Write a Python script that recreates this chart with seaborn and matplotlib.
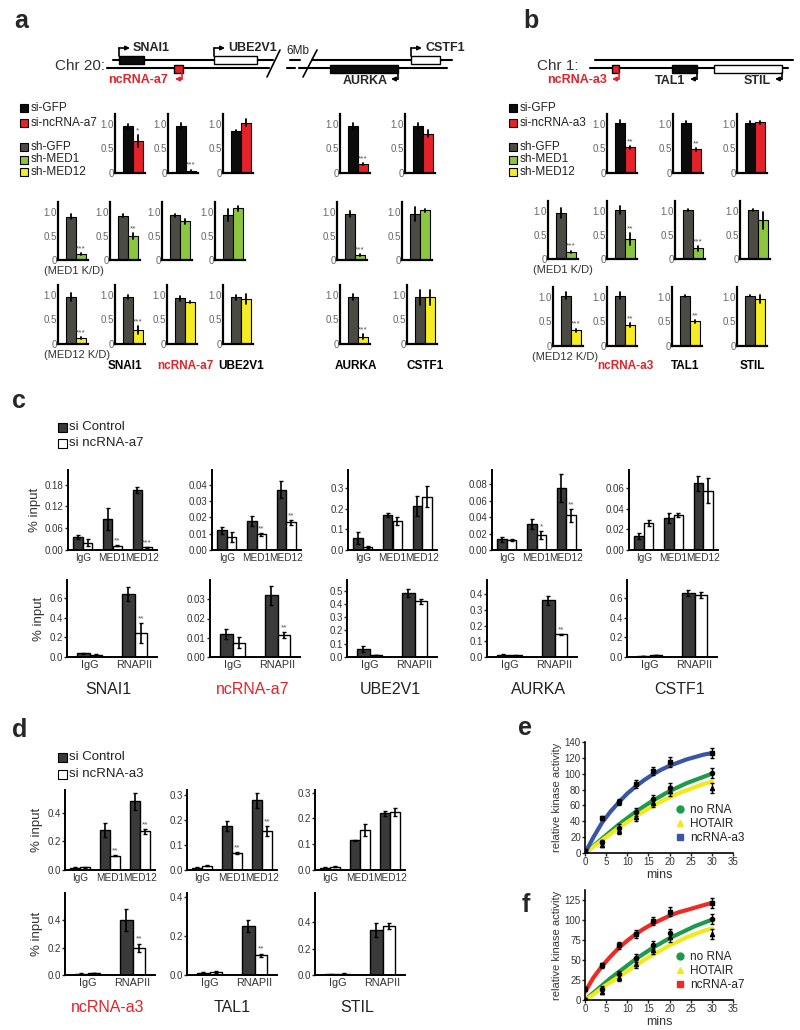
import numpy as np
import pandas as pd
import matplotlib
matplotlib.use("Agg")
import matplotlib.pyplot as plt
import seaborn as sns
from matplotlib.patches import Rectangle
from matplotlib.lines import Line2D

sns.set_theme(style="ticks")
plt.rcParams["font.family"] = ["Liberation Sans", "DejaVu Sans"]

# ---------------- data ----------------
# panel a (knockdown qPCR), values relative to control
a_genes = ["SNAI1", "ncRNA-a7", "UBE2V1", "AURKA", "CSTF1"]
a_si_ctrl = [0.95, 0.95, 0.85, 0.95, 0.95]
a_si_ctrl_err = [0.05, 0.07, 0.02, 0.07, 0.06]
a_si_kd = [0.65, 0.05, 1.02, 0.18, 0.80]
a_si_kd_err = [0.12, 0.02, 0.07, 0.02, 0.07]
a_si_stars = ["*", "***", "", "***", ""]

a_med1_ctrl = [0.90, 0.92, 0.93, 0.93, 0.95, 0.95]
a_med1_ctrl_err = [0.06, 0.04, 0.03, 0.12, 0.06, 0.14]
a_med1_kd = [0.12, 0.50, 0.80, 1.07, 0.10, 1.03]
a_med1_kd_err = [0.02, 0.06, 0.05, 0.05, 0.02, 0.03]
a_med1_stars = ["***", "**", "", "", "***", ""]

a_med12_ctrl = [0.95, 0.95, 0.93, 0.95, 0.95, 0.95]
a_med12_ctrl_err = [0.08, 0.04, 0.05, 0.05, 0.06, 0.15]
a_med12_kd = [0.12, 0.28, 0.85, 0.92, 0.15, 0.95]
a_med12_kd_err = [0.02, 0.08, 0.02, 0.10, 0.05, 0.15]
a_med12_stars = ["***", "***", "", "", "***", ""]

# panel b
b_genes = ["ncRNA-a3", "TAL1", "STIL"]
b_si_ctrl = [1.02, 1.02, 1.02]
b_si_ctrl_err = [0.05, 0.04, 0.04]
b_si_kd = [0.52, 0.48, 1.03]
b_si_kd_err = [0.03, 0.03, 0.03]
b_si_stars = ["**", "**", ""]

b_med1_ctrl = [0.95, 1.02, 1.02, 1.02]
b_med1_ctrl_err = [0.10, 0.08, 0.02, 0.02]
b_med1_kd = [0.15, 0.42, 0.22, 0.80]
b_med1_kd_err = [0.02, 0.12, 0.05, 0.18]
b_med1_stars = ["***", "**", "***", ""]

b_med12_ctrl = [1.02, 1.02, 1.02, 1.02]
b_med12_ctrl_err = [0.07, 0.07, 0.02, 0.01]
b_med12_kd = [0.32, 0.42, 0.50, 0.95]
b_med12_kd_err = [0.03, 0.04, 0.03, 0.08]
b_med12_stars = ["***", "**", "**", ""]

# panel c (ChIP, % input)
c_genes = ["SNAI1", "ncRNA-a7", "UBE2V1", "AURKA", "CSTF1"]
med_targets = ["IgG", "MED1", "MED12"]
pol_targets = ["IgG", "RNAPII"]

c_med_ctrl = [[0.035, 0.085, 0.165], [0.012, 0.018, 0.037], [0.06, 0.17, 0.215],
              [0.013, 0.032, 0.075], [0.014, 0.031, 0.065]]
c_med_ctrl_err = [[0.005, 0.03, 0.008], [0.002, 0.003, 0.005], [0.03, 0.01, 0.05],
                  [0.003, 0.006, 0.017], [0.003, 0.005, 0.007]]
c_med_kd = [[0.02, 0.012, 0.007], [0.008, 0.0095, 0.017], [0.015, 0.14, 0.26],
            [0.012, 0.018, 0.042], [0.026, 0.034, 0.058]]
c_med_kd_err = [[0.01, 0.002, 0.002], [0.003, 0.001, 0.0015], [0.003, 0.02, 0.05],
                [0.001, 0.005, 0.008], [0.003, 0.002, 0.012]]
c_med_stars = [["", "**", "***"], ["", "**", "**"], ["", "", ""], ["", "*", "**"], ["", "", ""]]
c_med_ticks = [[0, 0.06, 0.12, 0.18], [0, 0.01, 0.02, 0.03, 0.04], [0, 0.1, 0.2, 0.3],
               [0, 0.02, 0.04, 0.06, 0.08], [0, 0.02, 0.04, 0.06]]
c_med_dec = [2, 2, 1, 2, 2]
c_med_ymax = [0.22, 0.049, 0.39, 0.097, 0.078]

c_pol_ctrl = [[0.04, 0.64], [0.012, 0.032], [0.06, 0.48], [0.015, 0.36], [0.01, 0.65]]
c_pol_ctrl_err = [[0.005, 0.07], [0.0025, 0.005], [0.025, 0.03], [0.003, 0.03], [0.002, 0.03]]
c_pol_kd = [[0.025, 0.24], [0.0075, 0.0115], [0.015, 0.42], [0.01, 0.145], [0.02, 0.63]]
c_pol_kd_err = [[0.01, 0.1], [0.003, 0.0015], [0.003, 0.02], [0.002, 0.003], [0.003, 0.03]]
c_pol_stars = [["", "**"], ["", "**"], ["", ""], ["", "**"], ["", ""]]
c_pol_ticks = [[0, 0.2, 0.4, 0.6], [0, 0.01, 0.02, 0.03], [0, 0.1, 0.2, 0.3, 0.4, 0.5],
               [0, 0.1, 0.2, 0.3, 0.4], [0, 0.2, 0.4, 0.6]]
c_pol_dec = [1, 2, 1, 1, 1]
c_pol_ymax = [0.78, 0.04, 0.58, 0.49, 0.78]

# panel d
d_genes = ["ncRNA-a3", "TAL1", "STIL"]
d_med_ctrl = [[0.015, 0.28, 0.48], [0.01, 0.175, 0.28], [0.008, 0.115, 0.22]]
d_med_ctrl_err = [[0.003, 0.05, 0.06], [0.003, 0.02, 0.03], [0.002, 0.003, 0.01]]
d_med_kd = [[0.018, 0.10, 0.27], [0.018, 0.068, 0.155], [0.012, 0.155, 0.225]]
d_med_kd_err = [[0.003, 0.005, 0.015], [0.003, 0.004, 0.02], [0.002, 0.025, 0.015]]
d_med_stars = [["", "**", "**"], ["", "**", "**"], ["", "", ""]]
d_med_ticks = [[0, 0.2, 0.4], [0, 0.1, 0.2, 0.3], [0, 0.1, 0.2, 0.3]]
d_med_ymax = [0.56, 0.32, 0.31]

d_pol_ctrl = [[0.01, 0.40], [0.01, 0.25], [0.005, 0.34]]
d_pol_ctrl_err = [[0.003, 0.08], [0.003, 0.03], [0.002, 0.05]]
d_pol_kd = [[0.015, 0.20], [0.015, 0.10], [0.01, 0.37]]
d_pol_kd_err = [[0.003, 0.03], [0.003, 0.01], [0.002, 0.02]]
d_pol_stars = [["", "**"], ["", "**"], ["", ""]]
d_pol_ticks = [[0, 0.2, 0.4], [0, 0.2, 0.4], [0, 0.2, 0.4]]
d_pol_ymax = [0.6, 0.42, 0.62]

fit_t = [0, 2, 4, 6, 8, 10, 12, 14, 16, 18, 20, 22, 24, 26, 28, 30]
e_norna_fit = [0, 9, 18, 27, 36, 44, 52, 59, 66, 72, 78, 83, 88, 92, 96, 100]
e_hotair_fit = [0, 8, 16, 24, 32, 39, 46, 53, 59, 65, 70, 75, 79, 83, 87, 90]
e_a3_fit = [0, 20, 38, 52, 64, 75, 84, 92, 99, 105, 110, 114, 118, 121, 124, 126]
f_norna_fit = [0, 9, 18, 27, 35, 43, 51, 58, 65, 71, 77, 82, 87, 92, 96, 100]
f_hotair_fit = [0, 7, 15, 22, 29, 36, 43, 50, 56, 62, 68, 73, 78, 82, 86, 89]
f_a7_fit = [10, 28, 42, 54, 65, 74, 82, 89, 95, 100, 105, 109, 112, 115, 118, 121]

pt_t = [0, 4, 8, 12, 16, 20, 30]
e_norna_pts = [0, 14, 32, 52, 68, 82, 101]
e_hotair_pts = [0, 10, 28, 45, 63, 78, 82]
e_a3_pts = [3, 44, 64, 87, 103, 115, 126]
f_norna_pts = [0, 14, 32, 52, 68, 83, 101]
f_hotair_pts = [0, 10, 28, 45, 62, 78, 82]
f_a7_pts = [14, 43, 68, 82, 98, 110, 121]
pts_err = [2, 3, 4, 5, 5, 6, 6]

# ---------------- style ----------------
BLACK = "#0c0c0c"
RED = "#e5222a"
DKGRAY = "#4b4b43"
GREEN = "#8cc63f"
YELLOW = "#f6ec22"
CHIP_DARK = "#3a3a3a"
L_GREEN = "#1e9b4a"
L_YELLOW = "#f2e81b"
L_BLUE = "#3a55a5"
L_RED = "#ee2a24"

W, H = 800, 1030
fig = plt.figure(figsize=(8, 10.3), dpi=100)


def box(x, y, w, h):
    return fig.add_axes([x / W, 1 - (y + h) / H, w / W, h / H])


ov = fig.add_axes([0, 0, 1, 1])
ov.set_xlim(0, W)
ov.set_ylim(H, 0)
ov.axis("off")


def style_axes(ax, lw=1.6):
    sns.despine(ax=ax)
    for s in ("left", "bottom"):
        ax.spines[s].set_linewidth(lw)
        ax.spines[s].set_color("black")
    ax.set_xlabel("")
    ax.set_ylabel("")


def mini(x, y, vals, errs, cols, star, h=59):
    ax = box(x, y, 30, h)
    d = pd.DataFrame({"c": ["ctrl", "kd"], "v": vals})
    sns.barplot(data=d, x="c", y="v", hue="c", palette=cols, width=1.0, saturation=1,
                edgecolor="black", linewidth=0.8, legend=False, ax=ax)
    for p, e in zip(ax.patches, errs):
        cx = p.get_x() + p.get_width() / 2
        ax.plot([cx, cx], [p.get_height() - e, p.get_height() + e], color="black", lw=1.3)
    if star:
        p = ax.patches[1]
        ax.text(p.get_x() + p.get_width() / 2, p.get_height() + errs[1] + 0.02, star,
                ha="center", va="bottom", fontsize=6, color="#555")
    ax.set_xlim(-1.3, 1.7)
    ax.set_ylim(0, 1.2)
    ax.set_yticks([0, 0.5, 1.0])
    ax.set_yticklabels(["0", "0.5", "1.0"])
    ax.set_xticks([])
    ax.tick_params(axis="y", length=0, labelsize=7, labelcolor="#666", pad=1)
    style_axes(ax)
    return ax


def chip(x, y, w, h, cats, ctrl, ce, kd, ke, stars, ticks, ymax, width, dec=1, ylabel=False):
    ax = box(x, y, w, h)
    n = len(cats)
    d = pd.DataFrame({"t": cats * 2, "g": ["ctrl"] * n + ["kd"] * n, "v": ctrl + kd})
    sns.barplot(data=d, x="t", y="v", hue="g", palette=[CHIP_DARK, "white"], width=width,
                saturation=1, edgecolor="black", linewidth=1.0, legend=False, ax=ax)
    errs = ce + ke
    for p, e in zip(ax.patches, errs):
        cx = p.get_x() + p.get_width() / 2
        ax.errorbar(cx, p.get_height(), yerr=e, color="black", lw=1.2, capsize=1.5, capthick=1)
    for p, e, s in zip(ax.patches[n:], ke, stars):
        if s:
            ax.text(p.get_x() + p.get_width() / 2, p.get_height() + e + ymax * 0.01, s,
                    ha="center", va="bottom", fontsize=6, color="#555")
    ax.set_ylim(0, ymax)
    ax.set_xlim(-0.5, n - 0.5)
    ax.set_yticks(ticks)
    ax.set_yticklabels([f"{t:.{dec}f}" for t in ticks])
    ax.tick_params(axis="y", length=2, width=1, labelsize=7, labelcolor="#333", pad=1)
    ax.tick_params(axis="x", length=0, labelsize=7.2 if n == 3 else 7.8, labelcolor="#333", pad=2)
    style_axes(ax, lw=1.4)
    if ylabel:
        ax.set_ylabel("% input", fontsize=9.5, color="#333", labelpad=3)
    return ax


# ---------------- panel letters ----------------
for lab, (lx, ly) in {"a": (14, 28), "b": (523, 28), "c": (12, 408), "d": (12, 737),
                      "e": (518, 735), "f": (522, 912)}.items():
    ov.text(lx, ly, lab, fontsize=18, fontweight="bold", va="baseline", ha="left")

# ---------------- gene diagrams ----------------
def gene_box(x0, x1, y0, fc):
    ov.add_patch(Rectangle((x0, y0), x1 - x0, 8, fc=fc, ec="black", lw=1, zorder=3))


def tss(x, y0, y1, x1, color="black"):
    ov.plot([x, x], [y0, y1], color=color, lw=1.2, zorder=3)
    ov.annotate("", xy=(x1, y1), xytext=(x, y1),
                arrowprops=dict(arrowstyle="-|>", lw=1.2, color=color, mutation_scale=6,
                                shrinkA=0, shrinkB=0), zorder=3)


ov.text(55, 66, "Chr 20:", fontsize=11, va="center", color="#333")
# top strand
ov.plot([113, 273], [60, 60], color="black", lw=1.5)
ov.plot([290, 300], [60, 60], color="black", lw=1.5)
ov.plot([312, 452], [60, 60], color="black", lw=1.5)
# bottom strand
ov.plot([107, 269], [68, 68], color="black", lw=1.5)
ov.plot([287, 295], [68, 68], color="black", lw=1.5)
ov.plot([299, 447], [68, 68], color="black", lw=1.5)
ov.plot([267, 280], [77, 50], color="black", lw=1.2)
ov.plot([303, 317], [77, 50], color="black", lw=1.2)
ov.text(298, 51, "6Mb", fontsize=8.5, ha="center", va="center", color="#222")
gene_box(119, 144, 56, BLACK)
gene_box(214, 257, 56, "white")
gene_box(411, 440, 56, "white")
gene_box(174, 183, 65, RED)
gene_box(330, 398, 65, BLACK)
tss(119, 56, 48, 130)
tss(214, 56, 48, 225)
tss(411, 56, 48, 422)
tss(182, 73, 79, 175, RED)
tss(398, 73, 79, 391)
ov.text(133, 48, "SNAI1", fontsize=9, fontweight="bold", va="center")
ov.text(228, 48, "UBE2V1", fontsize=9, fontweight="bold", va="center")
ov.text(425, 48, "CSTF1", fontsize=9, fontweight="bold", va="center")
ov.text(168, 80, "ncRNA-a7", fontsize=9, fontweight="bold", va="center", ha="right", color=RED)
ov.text(388, 81, "AURKA", fontsize=9, fontweight="bold", va="center", ha="right")

ov.text(537, 66, "Chr 1:", fontsize=11, va="center", color="#333")
ov.plot([595, 793], [60, 60], color="black", lw=1.5)
ov.plot([590, 788], [68, 68], color="black", lw=1.5)
gene_box(612, 619, 65, RED)
gene_box(672, 697, 65, BLACK)
gene_box(714, 782, 65, "white")
tss(619, 73, 79, 612, RED)
tss(697, 73, 79, 690)
tss(782, 73, 79, 775)
ov.text(607, 80, "ncRNA-a3", fontsize=9, fontweight="bold", va="center", ha="right", color=RED)
ov.text(685, 81, "TAL1", fontsize=9, fontweight="bold", va="center", ha="right")
ov.text(771, 81, "STIL", fontsize=9, fontweight="bold", va="center", ha="right")

# ---------------- legends a / b ----------------
def sq_legend(x, ys, labels, cols, size=8, fs=8.5, gap=3):
    for yy, lab, c in zip(ys, labels, cols):
        ov.add_patch(Rectangle((x, yy - size / 2), size, size, fc=c, ec="black", lw=0.8))
        ov.text(x + size + gap, yy, lab, fontsize=fs, va="center", color="#222")


sq_legend(20, [108, 123], ["si-GFP", "si-ncRNA-a7"], [BLACK, RED])
sq_legend(20, [147, 159.5, 172], ["sh-GFP", "sh-MED1", "sh-MED12"], [DKGRAY, GREEN, YELLOW])
sq_legend(509, [108, 123], ["si-GFP", "si-ncRNA-a3"], [BLACK, RED])
sq_legend(509, [147, 159.5, 172], ["sh-GFP", "sh-MED1", "sh-MED12"], [DKGRAY, GREEN, YELLOW])

# ---------------- panel a bars ----------------
for i, x in enumerate([115, 168, 223, 340, 405]):
    mini(x, 114, [a_si_ctrl[i], a_si_kd[i]], [a_si_ctrl_err[i], a_si_kd_err[i]],
         [BLACK, RED], a_si_stars[i])
for i, x in enumerate([58, 110, 162, 215, 337, 402]):
    mini(x, 202, [a_med1_ctrl[i], a_med1_kd[i]], [a_med1_ctrl_err[i], a_med1_kd_err[i]],
         [DKGRAY, GREEN], a_med1_stars[i], h=58)
for i, x in enumerate([58, 115, 167, 223, 340, 407]):
    mini(x, 285, [a_med12_ctrl[i], a_med12_kd[i]], [a_med12_ctrl_err[i], a_med12_kd_err[i]],
         [DKGRAY, YELLOW], a_med12_stars[i])

# ---------------- panel b bars ----------------
for i, x in enumerate([607, 673, 737]):
    mini(x, 114, [b_si_ctrl[i], b_si_kd[i]], [b_si_ctrl_err[i], b_si_kd_err[i]],
         [BLACK, RED], b_si_stars[i])
for i, x in enumerate([548, 607, 675, 740]):
    mini(x, 201, [b_med1_ctrl[i], b_med1_kd[i]], [b_med1_ctrl_err[i], b_med1_kd_err[i]],
         [DKGRAY, GREEN], b_med1_stars[i], h=58)
for i, x in enumerate([553, 607, 672, 737]):
    mini(x, 287, [b_med12_ctrl[i], b_med12_kd[i]], [b_med12_ctrl_err[i], b_med12_kd_err[i]],
         [DKGRAY, YELLOW], b_med12_stars[i])

ov.text(44, 271, "(MED1 K/D)", fontsize=8, va="center", color="#333")
ov.text(44, 355, "(MED12 K/D)", fontsize=8, va="center", color="#333")
ov.text(533, 270, "(MED1 K/D)", fontsize=8, va="center", color="#333")
ov.text(532, 357, "(MED12 K/D)", fontsize=8, va="center", color="#333")
for g, cx in zip(a_genes, [125, 185, 241, 356, 425]):
    ov.text(cx, 366, g, fontsize=8.5, fontweight="bold", ha="center", va="center",
            color=RED if g.startswith("ncRNA") else "black")
for g, cx in zip(b_genes, [625, 685, 752]):
    ov.text(cx, 366, g, fontsize=8.5, fontweight="bold", ha="center", va="center",
            color=RED if g.startswith("ncRNA") else "black")

# ---------------- panel c ----------------
sq_legend(58, [427, 443], ["si Control", "si ncRNA-a7"], [CHIP_DARK, "white"], size=9, fs=9.5, gap=2)
c_x = [68, 212, 348, 492, 629]
for i, x in enumerate(c_x):
    chip(x, 470, 89, 80, med_targets, c_med_ctrl[i], c_med_ctrl_err[i], c_med_kd[i],
         c_med_kd_err[i], c_med_stars[i], c_med_ticks[i], c_med_ymax[i], 0.65,
         dec=c_med_dec[i], ylabel=(i == 0))
c_x2 = [67, 210, 347, 487, 627]
for i, x in enumerate(c_x2):
    chip(x, 580, 90, 77, pol_targets, c_pol_ctrl[i], c_pol_ctrl_err[i], c_pol_kd[i],
         c_pol_kd_err[i], c_pol_stars[i], c_pol_ticks[i], c_pol_ymax[i], 0.57,
         dec=c_pol_dec[i], ylabel=(i == 0))
for g, cx in zip(c_genes, [108, 253, 390, 538, 680]):
    ov.text(cx, 690, g, fontsize=11.5, ha="center", va="center",
            color=RED if g.startswith("ncRNA") else "#222")

# ---------------- panel d ----------------
sq_legend(58, [757, 774], ["si Control", "si ncRNA-a3"], [CHIP_DARK, "white"], size=9, fs=9.5, gap=2)
d_x = [65, 187, 315]
for i, x in enumerate(d_x):
    chip(x, 790, 90, 80, med_targets, d_med_ctrl[i], d_med_ctrl_err[i], d_med_kd[i],
         d_med_kd_err[i], d_med_stars[i], d_med_ticks[i], d_med_ymax[i], 0.65, ylabel=(i == 0))
for i, x in enumerate(d_x):
    chip(x, 893, 90, 82, pol_targets, d_pol_ctrl[i], d_pol_ctrl_err[i], d_pol_kd[i],
         d_pol_kd_err[i], d_pol_stars[i], d_pol_ticks[i], d_pol_ymax[i], 0.57, ylabel=(i == 0))
for g, cx in zip(d_genes, [108, 232, 357]):
    ov.text(cx, 1008, g, fontsize=11.5, ha="center", va="center",
            color=RED if g.startswith("ncRNA") else "#222")

# ---------------- panels e / f ----------------
def kinase(y, h, fits, pts, names, cols, markers, ymax, ticks):
    ax = box(585, y, 148, h)
    df = pd.DataFrame({"t": fit_t * 3, "v": fits[0] + fits[1] + fits[2],
                       "s": [names[0]] * len(fit_t) + [names[1]] * len(fit_t) + [names[2]] * len(fit_t)})
    sns.lineplot(data=df, x="t", y="v", hue="s", palette=cols, lw=3, legend=False, ax=ax)
    for p, m in zip(pts, markers):
        ax.errorbar(pt_t, p, yerr=pts_err, fmt=m, color="black", ms=3, lw=1,
                    capsize=1.5, capthick=1, zorder=4)
    ax.set_xlim(0, 35)
    ax.set_ylim(0, ymax)
    ax.set_xticks(range(0, 36, 5))
    ax.set_yticks(ticks)
    ax.tick_params(length=2, width=1, labelsize=7, labelcolor="#333", pad=1)
    style_axes(ax, lw=1.2)
    ax.set_xlabel("mins", fontsize=9, color="#333", labelpad=1)
    ax.set_ylabel("relative kinase activity", fontsize=8, color="#333", labelpad=2)
    handles = [Line2D([], [], ls="", marker=mk, color=c, ms=5) for mk, c in zip(["o", "^", "s"], cols)]
    ax.legend(handles, names, loc="lower left", bbox_to_anchor=(0.58, 0.04), frameon=False,
              fontsize=8.5, handlelength=0.8, handletextpad=0.4, labelspacing=0.15,
              borderaxespad=0, labelcolor="#222")
    return ax


kinase(742, 111, [e_norna_fit, e_hotair_fit, e_a3_fit], [e_norna_pts, e_hotair_pts, e_a3_pts],
       ["no RNA", "HOTAIR", "ncRNA-a3"], [L_GREEN, L_YELLOW, L_BLUE], ["o", "^", "s"],
       140, range(0, 141, 20))
kinase(890, 110, [f_norna_fit, f_hotair_fit, f_a7_fit], [f_norna_pts, f_hotair_pts, f_a7_pts],
       ["no RNA", "HOTAIR", "ncRNA-a7"], [L_GREEN, L_YELLOW, L_RED], ["o", "^", "s"],
       137, range(0, 126, 25))

fig.savefig("out.png", dpi=100, facecolor="white")
